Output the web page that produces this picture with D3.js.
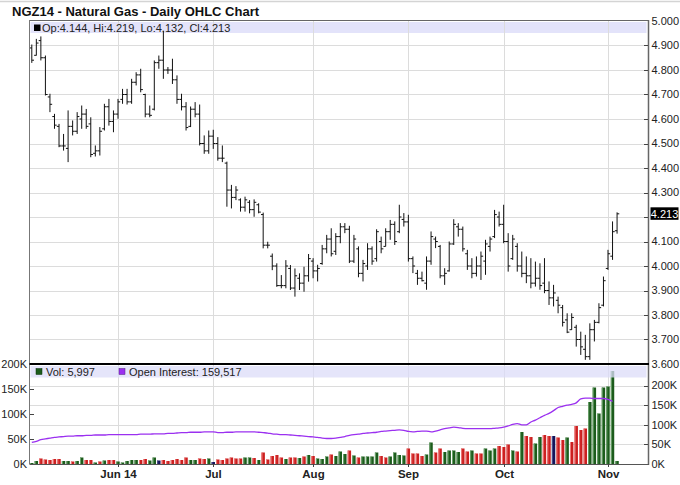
<!DOCTYPE html>
<html><head><meta charset="utf-8">
<script src="https://cdn.jsdelivr.net/npm/d3@7/dist/d3.min.js"></script>
<style>body{margin:0;background:#fff;} svg{display:block;font-family:"Liberation Sans",Arial,sans-serif;}</style>
</head><body><svg id="c" width="680" height="485"></svg>
<script>
// ---------- DATA ----------
const title = "NGZ14 - Natural Gas - Daily OHLC Chart";
const holidays = ["2014-05-26","2014-07-04","2014-09-01"];
const monthLabels = ["Jun 14","Jul","Aug","Sep","Oct","Nov"];
const priceTicks = [3.6,3.7,3.8,3.9,4.0,4.1,4.2,4.3,4.4,4.5,4.6,4.7,4.8,4.9,5.0];
const volTicks = [0,50000,100000,150000,200000];

const open = [4.89,4.86,4.92,4.85,4.69,4.61,4.57,4.49,4.48,4.57, 4.55,4.60,4.62,4.58,4.46,4.47,4.56,4.65,4.59,4.62,
 4.68,4.70,4.67,4.75,4.78,4.70,4.62,4.64,4.83,4.84, 4.80,4.80,4.76,4.68,4.65,4.57,4.64,4.62,4.50,4.47,
 4.53,4.50,4.44,4.42,4.31,4.28,4.27,4.24,4.26,4.23, 4.25,4.21,4.085,4.04,4.00,3.92,3.92,3.99,3.91,3.95,
 3.93,3.96,4.02,3.98,4.01,4.07,4.11,4.06,4.12,4.16, 4.15,4.02,4.07,3.97,4.00,4.07,4.03,4.10,4.08,4.14,
 4.17,4.14,4.19,4.18,4.03,3.97,3.95,3.93,4.02,4.11, 4.08,3.96,3.98,4.09,4.16,4.15,4.05,4.00,3.97,4.00,
 4.02,4.08,4.12,4.20,4.17,4.10,4.03,4.08,4.00,3.97, 3.96,3.93,3.95,3.93,3.90,3.87,3.86,3.83,3.78,3.74,
 3.75,3.70,3.66,3.63,3.74,3.77,3.84,3.99,4.04,4.144];
const high = [4.904,4.927,4.937,4.859,4.703,4.621,4.580,4.539,4.635,4.594, 4.628,4.655,4.641,4.607,4.492,4.567,4.662,4.682,4.635,4.682,
 4.723,4.723,4.764,4.791,4.805,4.703,4.655,4.839,4.859,4.960, 4.812,4.846,4.778,4.703,4.669,4.651,4.669,4.659,4.533,4.553,
 4.556,4.526,4.492,4.426,4.331,4.326,4.276,4.283,4.269,4.272, 4.256,4.218,4.099,4.051,4.011,3.963,4.024,4.004,3.990,3.970,
 3.997,4.049,4.032,4.005,4.086,4.127,4.154,4.134,4.175,4.175, 4.164,4.127,4.080,4.025,4.093,4.080,4.150,4.120,4.154,4.188,
 4.182,4.250,4.216,4.209,4.039,3.984,3.977,4.039,4.141,4.120, 4.086,3.991,4.100,4.191,4.175,4.161,4.066,4.032,4.039,4.059,
 4.107,4.120,4.229,4.222,4.250,4.134,4.127,4.093,4.059,4.039, 4.032,4.018,4.011,4.032,3.937,3.923,3.875,3.841,3.807,3.807,
 3.760,3.732,3.719,3.766,3.780,3.848,3.957,4.066,4.182,4.219];
const low = [4.829,4.859,4.839,4.696,4.628,4.560,4.485,4.471,4.424,4.533, 4.539,4.560,4.560,4.444,4.447,4.451,4.553,4.573,4.546,4.601,
 4.662,4.659,4.662,4.737,4.709,4.607,4.607,4.635,4.805,4.764, 4.784,4.743,4.662,4.635,4.553,4.567,4.607,4.492,4.458,4.458,
 4.478,4.430,4.424,4.242,4.235,4.269,4.222,4.222,4.215,4.201, 4.215,4.072,4.072,3.983,3.915,3.909,3.909,3.902,3.875,3.902,
 3.895,3.936,3.950,3.937,4.005,4.052,4.039,4.045,4.093,4.134, 4.012,4.012,3.954,3.937,3.984,4.005,4.018,4.052,4.080,4.107,
 4.086,4.134,4.161,4.018,3.971,3.923,3.937,3.903,4.005,4.073, 3.950,3.923,3.977,4.086,4.120,4.059,3.984,3.950,3.957,3.943,
 3.964,4.059,4.114,4.161,4.093,3.977,4.025,3.977,3.954,3.930, 3.909,3.916,3.903,3.889,3.841,3.835,3.807,3.753,3.726,3.739,
 3.671,3.637,3.617,3.617,3.692,3.766,3.835,3.984,4.025,4.132];
const close = [4.84,4.91,4.85,4.70,4.66,4.575,4.49,4.49,4.57,4.55, 4.61,4.62,4.57,4.455,4.47,4.55,4.65,4.59,4.62,4.67,
 4.70,4.67,4.75,4.78,4.72,4.62,4.615,4.83,4.84,4.80, 4.80,4.76,4.68,4.65,4.565,4.64,4.62,4.50,4.47,4.53,
 4.50,4.44,4.44,4.31,4.28,4.31,4.24,4.27,4.23,4.26, 4.22,4.085,4.085,4.00,3.92,3.92,4.00,3.91,3.96,3.93,
 3.96,4.03,3.98,3.99,4.07,4.11,4.05,4.12,4.16,4.15, 4.02,4.11,3.97,4.01,4.07,4.02,4.14,4.07,4.14,4.17,
 4.10,4.20,4.18,4.03,4.00,3.95,3.94,4.02,4.12,4.10, 3.96,3.97,4.09,4.17,4.15,4.07,4.00,3.97,4.00,4.04,
 4.09,4.11,4.21,4.17,4.10,4.00,4.11,4.00,3.97,3.96, 3.93,3.95,3.92,3.90,3.87,3.89,3.84,3.77,3.73,3.79,
 3.70,3.67,3.63,3.74,3.77,3.83,3.94,4.05,4.14,4.213];
const volume = [2000,6000,11000,9000,8000,10000,10000,6000,6000,5000, 6000,13000,8000,8000,3000,5000,7000,8000,8000,5000,
 3000,6000,8000,8000,8000,10000,7000,13000,7000,8000, 6000,8000,10000,8000,13000,8000,8000,11000,10000,11000,
 4000,9000,8000,11000,13000,11000,11000,13000,13000,12000, 8000,23000,9000,16000,18000,13000,10000,13000,13000,12000,
 15000,18000,16000,11000,10000,15000,19000,16000,25000,20000, 27000,17000,13000,15000,15000,15000,23000,16000,13000,15000,
 23000,18000,17000,31000,21000,21000,16000,19000,43000,23000, 31000,24000,27000,27000,24000,31000,25000,27000,21000,21000,
 31000,27000,31000,36000,34000,39000,27000,25000,64000,56000, 54000,41000,54000,58000,56000,56000,53000,48000,53000,44000,
 76000,68000,71000,124000,153000,101000,153000,155000,186000,5997];
const volDir = ["u","u","d","d","d","d","d","u","u","d", "u","u","d","d","u","d","u","d","d","u",
 "u","u","u","u","d","d","u","u","n","d", "d","d","d","d","d","u","u","d","d","u",
 "n","d","d","d","d","d","d","u","u","d", "u","d","d","d","d","d","u","d","d","u",
 "d","u","d","u","u","u","d","u","u","u", "d","u","d","u","u","u","u","d","d","u",
 "u","u","u","d","d","d","d","u","u","d", "d","u","u","u","u","d","d","u","d","d",
 "u","u","u","d","d","d","u","d","u","d", "d","u","u","d","d","n","d","d","u","d",
 "d","d","d","u","u","u","u","u","u","u"];
const openInterest = [55000,58000,62000,64000,66000,68000,69000,70000,71000,71000, 72000,72000,73000,73000,74000,74000,74000,75000,75000,75000,
 75000,75000,75000,75000,76000,76000,76000,77000,77000,77000, 78000,78000,79000,80000,80000,81000,81000,81000,82000,82000,
 82000,80000,80000,81000,81000,82000,82000,82000,82000,82000, 81000,80000,79000,77000,76000,75000,75000,74000,73000,72000,
 71000,70000,69000,68000,66000,65000,65000,66000,68000,70000, 73000,75000,76000,78000,79000,80000,81000,83000,84000,85000,
 86000,87000,86000,83000,82000,83000,84000,84000,82000,84000, 87000,90000,92000,94000,93000,91000,90000,90000,90000,90000,
 90000,90000,91000,92000,94000,97000,101000,103000,100000,100000, 107000,112000,118000,124000,129000,136000,144000,147000,150000,152000,
 156000,166000,168000,168000,167000,167000,167000,165000,159517];

// ---------- LAYOUT ----------
const L = 30, R = 648, pTop = 21, pBot = 364, vTop = 364, vBot = 464;
const svg = d3.select("#c");
const fmtDay = d3.timeFormat("%Y-%m-%d");
const dates = d3.timeDay.range(new Date(2014,4,5), new Date(2014,10,6))
  .filter(d => d.getDay() % 6 !== 0 && !holidays.includes(fmtDay(d)));
const N = close.length;
const x = d3.scaleLinear().domain([0, N-1]).range([31.8, 31.8 + (N-1)*4.537]);
const y = d3.scaleLinear().domain([3.6, 5.0]).range([pBot, pTop]);
const yv = d3.scaleLinear().domain([0, 200000]).range([vBot, vTop]);
const yoi = d3.scaleLinear().domain([0, 255000]).range([vBot, vTop]);

const monthIdx = [];
dates.forEach((d,i) => { if (i>0 && d.getMonth() !== dates[i-1].getMonth()) monthIdx.push(i); });
const monthTicks = monthIdx.map((i,k) => ({i, label: monthLabels[k]}));

// top faint line
svg.append("line").attr("x1",0).attr("x2",680).attr("y1",1.5).attr("y2",1.5).attr("stroke","#d4d4d4").attr("stroke-width",1.5);

// title
svg.append("text").attr("x",12).attr("y",15.5).attr("font-size",13).attr("font-weight","bold").attr("fill","#111").text(title);

// price legend band
svg.append("rect").attr("x",L+0.5).attr("y",22).attr("width",R-L-2).attr("height",11).attr("fill","#e3e3fa");

// gridlines
const grid = svg.append("g").attr("stroke","#dcdcdc").attr("stroke-width",1);
priceTicks.filter(v => v>3.65 && v<4.95).forEach(v => {
  grid.append("line").attr("x1",L).attr("x2",R).attr("y1",Math.round(y(v))+0.5).attr("y2",Math.round(y(v))+0.5);
});
volTicks.filter(v => v>0).forEach(v => {
  grid.append("line").attr("x1",L).attr("x2",R).attr("y1",Math.round(yoi(v))+0.5).attr("y2",Math.round(yoi(v))+0.5);
});
monthTicks.forEach(t => {
  const xx = Math.round(x(t.i))+0.5;
  grid.append("line").attr("x1",xx).attr("x2",xx).attr("y1",pTop).attr("y2",vBot);
});

// OHLC bars
const bars = svg.append("g").attr("stroke","#111").attr("stroke-width",1);
for (let i=0;i<N;i++){
  const xi = x(i);
  bars.append("line").attr("x1",xi).attr("x2",xi).attr("y1",y(high[i])).attr("y2",y(low[i]));
  bars.append("line").attr("x1",xi-2.2).attr("x2",xi).attr("y1",y(open[i])).attr("y2",y(open[i]));
  bars.append("line").attr("x1",xi).attr("x2",xi+2.2).attr("y1",y(close[i])).attr("y2",y(close[i]));
}

// price legend
svg.append("rect").attr("x",34).attr("y",24.5).attr("width",6.5).attr("height",6.5).attr("fill","#000");
svg.append("text").attr("x",42).attr("y",31.5).attr("font-size",11).attr("fill","#222")
  .text(`Op:${d3.format(".3f")(open[N-1])}, Hi:${d3.format(".3f")(high[N-1])}, Lo:${d3.format(".3f")(low[N-1])}, Cl:${d3.format(".3f")(close[N-1])}`);

// volume bars
const colMain = {u:"#1c5c1c", d:"#cc2020", n:"#14145a"};
const colLite = {u:"#6fa56f", d:"#ee7a7a", n:"#50508a"};
const vb = svg.append("g");
for (let i=0;i<N;i++){
  const xi = x(i), top = yv(volume[i]);
  vb.append("rect").attr("x",xi-1.7).attr("y",top).attr("width",3.4).attr("height",vBot-top).attr("fill",colMain[volDir[i]]);
  vb.append("rect").attr("x",xi-1.7).attr("y",top).attr("width",1).attr("height",vBot-top).attr("fill",colLite[volDir[i]]);
}

// open interest line
svg.append("path").datum(openInterest)
  .attr("d", d3.line().x((d,i)=>x(i)).y(d=>yoi(d)).curve(d3.curveMonotoneX))
  .attr("fill","none").attr("stroke","#9b30f0").attr("stroke-width",1.3);

// volume legend band (translucent over bars)
svg.append("rect").attr("x",L+0.5).attr("y",366).attr("width",R-L-2).attr("height",11.5).attr("fill","#dcdcf8").attr("opacity",0.75);
svg.append("rect").attr("x",36).attr("y",368.5).attr("width",6).attr("height",6).attr("fill","#1c5c1c").attr("stroke","#0a300a").attr("stroke-width",0.5);
svg.append("text").attr("x",46).attr("y",375.5).attr("font-size",11).attr("fill","#222").text("Vol: " + d3.format(",")(volume[N-1]));
svg.append("rect").attr("x",119).attr("y",368.5).attr("width",6).attr("height",6).attr("fill","#9b30f0").attr("stroke","#502080").attr("stroke-width",0.5);
svg.append("text").attr("x",129).attr("y",375.5).attr("font-size",11).attr("fill","#222").text("Open Interest: " + d3.format(",")(openInterest[openInterest.length-1]));

// frames
const fr = svg.append("g").attr("fill","none");
fr.append("line").attr("x1",L).attr("x2",R).attr("y1",pTop-0.5).attr("y2",pTop-0.5).attr("stroke","#666").attr("stroke-width",1);
fr.append("line").attr("x1",L-0.5).attr("x2",L-0.5).attr("y1",pTop-1).attr("y2",vBot).attr("stroke","#777").attr("stroke-width",1);
fr.append("line").attr("x1",R+0.5).attr("x2",R+0.5).attr("y1",pTop-1).attr("y2",vBot+1).attr("stroke","#666").attr("stroke-width",1.5);
fr.append("line").attr("x1",L-0.5).attr("x2",R+1).attr("y1",pBot).attr("y2",pBot).attr("stroke","#000").attr("stroke-width",2);
fr.append("line").attr("x1",L-0.5).attr("x2",R+1).attr("y1",vBot+0.5).attr("y2",vBot+0.5).attr("stroke","#555").attr("stroke-width",1.2);

// right price axis
const ax = svg.append("g").attr("font-size",11).attr("fill","#222");
priceTicks.forEach(v => {
  const yy = y(v);
  if (v>3.65 && v<4.95) ax.append("line").attr("x1",R-4).attr("x2",R).attr("y1",Math.round(yy)+0.5).attr("y2",Math.round(yy)+0.5).attr("stroke","#444");
  if (Math.abs(v - close[N-1]) > 0.03)
    ax.append("text").attr("x",R+3.5).attr("y",yy).attr("dy","0.35em").text(d3.format(".3f")(v));
});
// last price marker
const ly = y(close[N-1]);
svg.append("rect").attr("x",R+2.5).attr("y",ly-6.5).attr("width",28).attr("height",12.5).attr("fill","#000");
svg.append("text").attr("x",R+16.5).attr("y",ly).attr("dy","0.35em").attr("text-anchor","middle").attr("font-size",11).attr("fill","#fff").text(d3.format(".3f")(close[N-1]));

// volume axes
const fmtK = v => (v/1000) + "K";
volTicks.forEach(v => {
  // right (open interest)
  const yr = yoi(v);
  if (v>0) ax.append("line").attr("x1",R-4).attr("x2",R).attr("y1",Math.round(yr)+0.5).attr("y2",Math.round(yr)+0.5).attr("stroke","#444");
  ax.append("text").attr("x",R+3.5).attr("y",yr).attr("dy","0.35em").text(fmtK(v));
  // left (volume)
  const yl = yv(v);
  if (v>0 && v<200000) ax.append("line").attr("x1",L).attr("x2",L+4).attr("y1",Math.round(yl)+0.5).attr("y2",Math.round(yl)+0.5).attr("stroke","#444");
  ax.append("text").attr("x",L-3).attr("y",yl).attr("dy","0.35em").attr("text-anchor","end").text(fmtK(v));
});

// x axis
monthTicks.forEach(t => {
  const xx = Math.round(x(t.i))+0.5;
  svg.append("line").attr("x1",xx).attr("x2",xx).attr("y1",vBot).attr("y2",vBot+3).attr("stroke","#444");
  svg.append("text").attr("x",xx).attr("y",477.5).attr("text-anchor","middle").attr("font-size",11.5).attr("font-weight","bold").attr("fill","#222").text(t.label);
});
</script></body></html>
